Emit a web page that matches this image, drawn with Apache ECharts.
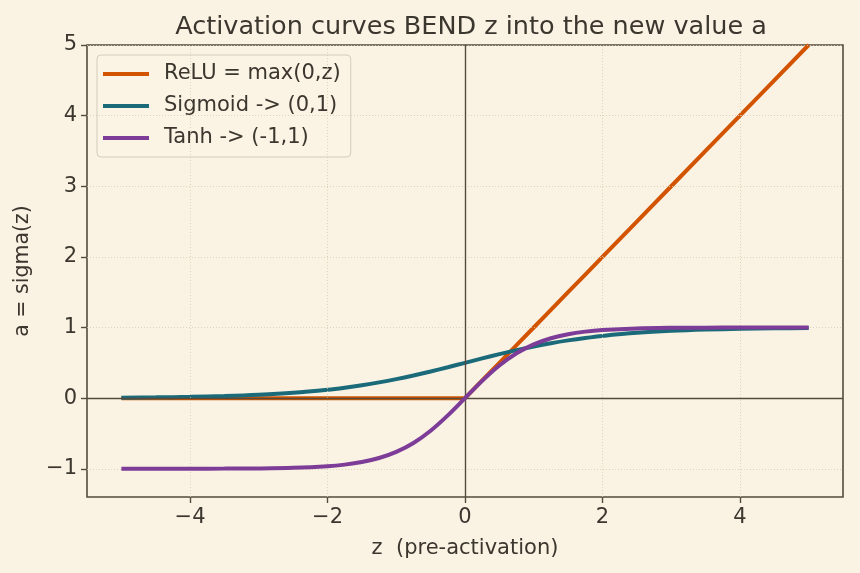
<!DOCTYPE html>
<html>
<head>
<meta charset="utf-8">
<script src="https://cdn.jsdelivr.net/npm/echarts@6/dist/echarts.min.js"></script>
<style>
  html, body { margin: 0; padding: 0; background: #faf3e4; }
  #chart { width: 860px; height: 573px; }
</style>
</head>
<body>
<div id="chart"></div>
<script>
// z samples (pre-activation)
const zValues = [-5, -4.5, -4, -3.5, -3, -2.5, -2, -1.75, -1.5, -1.25, -1, -0.75, -0.5, -0.25, 0,
  0.25, 0.5, 0.75, 1, 1.25, 1.5, 1.75, 2, 2.5, 3, 3.5, 4, 4.5, 5]
const reluValues = [0, 0, 0, 0, 0, 0, 0, 0, 0, 0, 0, 0, 0, 0, 0,
  0.25, 0.5, 0.75, 1, 1.25, 1.5, 1.75, 2, 2.5, 3, 3.5, 4, 4.5, 5]
const sigmoidValues = [0.0067, 0.0110, 0.0180, 0.0293, 0.0474, 0.0759, 0.1192, 0.1480, 0.1824, 0.2227,
  0.2689, 0.3208, 0.3775, 0.4378, 0.5, 0.5622, 0.6225, 0.6792, 0.7311, 0.7773, 0.8176, 0.8520,
  0.8808, 0.9241, 0.9526, 0.9707, 0.9820, 0.9890, 0.9933]
const tanhValues = [-0.9999, -0.9998, -0.9993, -0.9982, -0.9951, -0.9866, -0.9640, -0.9414, -0.9051,
  -0.8483, -0.7616, -0.6351, -0.4621, -0.2449, 0, 0.2449, 0.4621, 0.6351, 0.7616, 0.8483, 0.9051,
  0.9414, 0.9640, 0.9866, 0.9951, 0.9982, 0.9993, 0.9998, 0.9999]
const xTicks = [-4, -2, 0, 2, 4]
const yTicks = [-1, 0, 1, 2, 3, 4, 5]
const seriesNames = ['ReLU = max(0,z)', 'Sigmoid -> (0,1)', 'Tanh -> (-1,1)']

const textColor = '#3b362e'
const frameColor = '#554b3c'
const font = 'DejaVu Sans'

function pairs(ys) {
  return zValues.map((z, i) => [z, ys[i]])
}
function fmt(v) {
  return v < 0 ? '\u2212' + Math.abs(v) : String(v)
}

const chart = echarts.init(document.getElementById('chart'))
chart.setOption({
  backgroundColor: '#faf3e4',
  animation: false,
  textStyle: { fontFamily: font },
  title: {
    text: 'Activation curves BEND z into the new value a',
    left: 466,
    textAlign: 'center',
    top: 9,
    textStyle: { fontFamily: font, fontSize: 25.5, fontWeight: 'normal', color: textColor }
  },
  legend: {
    left: 97,
    top: 55,
    orient: 'vertical',
    icon: 'rect',
    itemWidth: 46,
    itemHeight: 4,
    itemGap: 10,
    padding: [8, 10, 8, 6],
    backgroundColor: 'rgba(250,243,228,0.85)',
    borderColor: '#d3cbbb',
    borderWidth: 1,
    borderRadius: 4,
    textStyle: { fontFamily: font, fontSize: 21, color: textColor, padding: [0, 0, 0, 10], lineHeight: 22 },
    data: seriesNames
  },
  grid: {
    left: 87, right: 17, top: 45, bottom: 76,
    show: true, borderColor: frameColor, borderWidth: 1.6, backgroundColor: 'transparent'
  },
  xAxis: {
    type: 'value',
    min: -5.5,
    max: 5.5,
    name: 'z  (pre-activation)',
    nameLocation: 'middle',
    nameGap: 41,
    nameTextStyle: { fontFamily: font, fontSize: 21, color: textColor },
    axisLine: { show: false, onZero: false },
    axisTick: { show: true, customValues: xTicks, length: 6, lineStyle: { color: frameColor, width: 1.4 } },
    axisLabel: { customValues: xTicks, formatter: fmt, margin: 10, fontFamily: font, fontSize: 21, color: textColor },
    splitLine: { show: false }
  },
  yAxis: {
    type: 'value',
    min: -1.4,
    max: 5,
    name: 'a = sigma(z)',
    nameLocation: 'middle',
    nameGap: 54,
    nameTextStyle: { fontFamily: font, fontSize: 20.5, color: textColor },
    axisLine: { show: false, onZero: false },
    axisTick: { show: true, customValues: yTicks, length: 6, lineStyle: { color: frameColor, width: 1.4 } },
    axisLabel: { customValues: yTicks, formatter: fmt, margin: 10, fontFamily: font, fontSize: 21, color: textColor },
    splitLine: { show: false }
  },
  series: [
    {
      // dotted grid, under the curves
      type: 'line',
      data: [],
      z: 1,
      markLine: {
        silent: true,
        symbol: 'none',
        label: { show: false },
        lineStyle: { color: '#d6cbb0', type: [1, 2], width: 0.8 },
        data: xTicks.map(v => ({ xAxis: v })).concat(yTicks.map(v => ({ yAxis: v })))
      }
    },
    {
      name: seriesNames[0],
      type: 'line',
      data: pairs(reluValues),
      showSymbol: false,
      color: '#d35400',
      lineStyle: { width: 4 },
      z: 3
    },
    {
      name: seriesNames[1],
      type: 'line',
      data: pairs(sigmoidValues),
      showSymbol: false,
      smooth: 0.3,
      color: '#1b6a7a',
      lineStyle: { width: 4 },
      z: 4
    },
    {
      name: seriesNames[2],
      type: 'line',
      data: pairs(tanhValues),
      showSymbol: false,
      smooth: 0.3,
      color: '#7d3c98',
      lineStyle: { width: 4 },
      z: 5
    },
    {
      // zero lines drawn over the curves
      type: 'line',
      data: [],
      z: 6,
      markLine: {
        silent: true,
        symbol: 'none',
        label: { show: false },
        lineStyle: { color: frameColor, type: 'solid', width: 1.4 },
        data: [{ xAxis: 0 }, { yAxis: 0 }]
      }
    }
  ]
})
</script>
</body>
</html>
